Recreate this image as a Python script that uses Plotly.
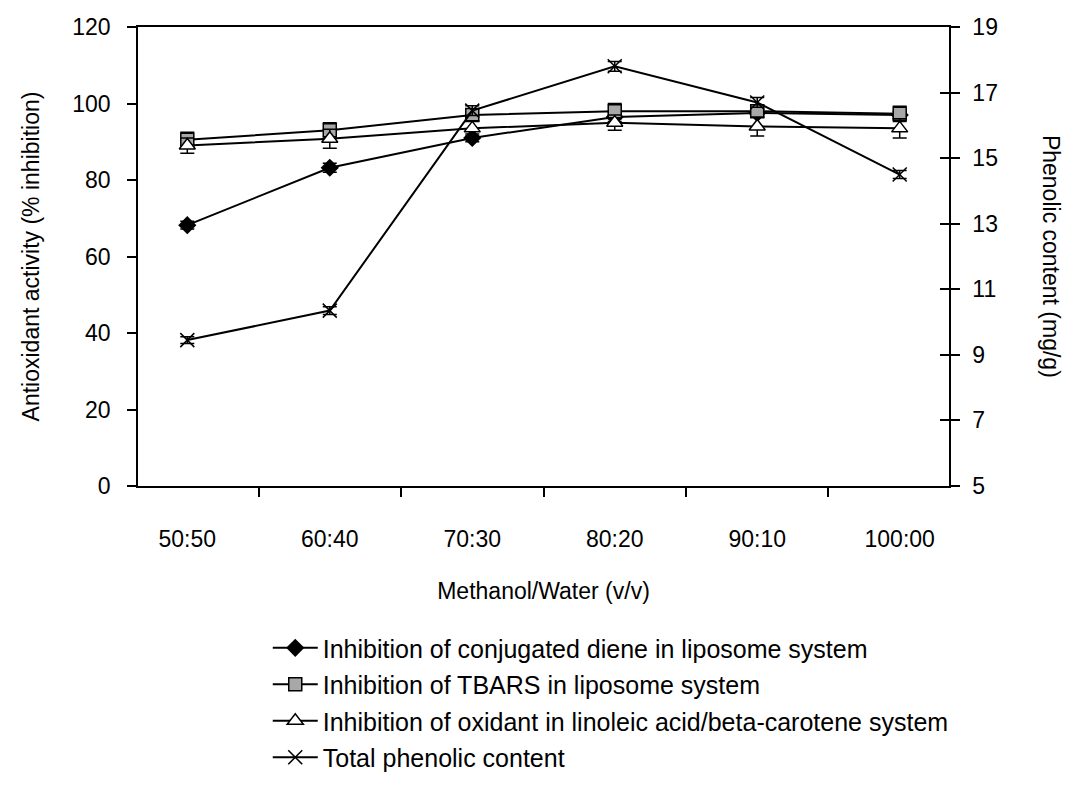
import plotly.graph_objects as go

# Solvent ratios (methanol/water, v/v)
ratios = ["50:50", "60:40", "70:30", "80:20", "90:10", "100:00"]

# Antioxidant activity, % inhibition (left axis)
diene = [68.2, 83.2, 91.0, 96.5, 97.5, 97.0]
diene_err = [1.0, 1.2, 1.0, 1.2, 1.0, 1.0]
tbars = [90.5, 93.0, 97.0, 98.0, 98.0, 97.3]
tbars_err = [2.0, 2.0, 1.5, 2.0, 1.5, 2.0]
oxidant = [89.0, 90.8, 93.5, 95.0, 94.0, 93.5]
oxidant_err = [2.0, 2.5, 2.0, 2.0, 2.5, 2.5]

# Total phenolic content, mg/g (right axis)
phenolic = [9.45, 10.35, 16.45, 17.8, 16.7, 14.5]
phenolic_err = [0.1, 0.12, 0.15, 0.15, 0.15, 0.12]

FONT = "Liberation Sans, Arial, sans-serif"
BLACK = "#000000"
TICK_SIZE = 23
TITLE_SIZE = 23
LEGEND_SIZE = 25
RIGHT_RANGE = [5, 19]

fig = go.Figure()

def err(vals):
    return dict(type="data", array=vals, visible=True, color=BLACK,
                thickness=1.5, width=7)

fig.add_trace(go.Scatter(
    x=ratios, y=diene, name="Inhibition of conjugated diene in liposome system",
    mode="lines+markers", legendgroup="a",
    line=dict(color=BLACK, width=2),
    marker=dict(symbol="diamond", size=14, color=BLACK),
    error_y=err(diene_err),
))
fig.add_trace(go.Scatter(
    x=ratios, y=tbars, name="Inhibition of TBARS in liposome system",
    mode="lines+markers", legendgroup="b",
    line=dict(color=BLACK, width=2),
    marker=dict(symbol="square", size=13, color="#a8a8a8",
                line=dict(color=BLACK, width=1.5)),
    error_y=err(tbars_err),
))
fig.add_trace(go.Scatter(
    x=ratios, y=oxidant, name="Inhibition of oxidant in linoleic acid/beta-carotene system",
    mode="lines+markers", legendgroup="c",
    line=dict(color=BLACK, width=2),
    marker=dict(symbol="triangle-up", size=14, color="#ffffff",
                line=dict(color=BLACK, width=1.5)),
    error_y=err(oxidant_err),
))
fig.add_trace(go.Scatter(
    x=ratios, y=phenolic, name="Total phenolic content", yaxis="y2",
    mode="lines+markers", legendgroup="d",
    line=dict(color=BLACK, width=2),
    marker=dict(symbol="x-thin-open", size=14, color=BLACK,
                line=dict(color=BLACK, width=1.5)),
    error_y=err(phenolic_err),
))
# Companion trace so the right axis also gets its inward tick marks
fig.add_trace(go.Scatter(
    x=ratios, y=phenolic, yaxis="y3", mode="none",
    showlegend=False, hoverinfo="skip",
))

fig.update_layout(
    width=1072, height=792,
    margin=dict(l=138, r=123, t=27, b=295),
    paper_bgcolor="white", plot_bgcolor="white",
    font=dict(family=FONT, size=TICK_SIZE, color=BLACK),
    showlegend=True,
    legend=dict(
        orientation="v", x=0.16, xanchor="left", y=-0.303, yanchor="top",
        font=dict(family=FONT, size=LEGEND_SIZE, color=BLACK),
        tracegroupgap=1, itemwidth=45, bgcolor="rgba(0,0,0,0)",
    ),
    xaxis=dict(
        type="category", showline=True, linecolor=BLACK, linewidth=1.5,
        mirror=True, ticks="outside", tickson="boundaries", ticklen=9,
        tickwidth=1.5, tickcolor=BLACK, showgrid=False, zeroline=False,
        tickfont=dict(size=TICK_SIZE), ticklabelstandoff=32,
        title=dict(text="Methanol/Water (v/v)", font=dict(size=TITLE_SIZE), standoff=32),
    ),
    yaxis=dict(
        range=[0, 120], dtick=20, showline=True, linecolor=BLACK, linewidth=1.5,
        ticks="outside", ticklen=9, tickwidth=1.5, tickcolor=BLACK,
        showgrid=False, zeroline=False, tickfont=dict(size=TICK_SIZE),
        ticklabelstandoff=12,
        title=dict(text="Antioxidant activity (% inhibition)",
                   font=dict(size=TITLE_SIZE), standoff=26),
    ),
    yaxis2=dict(
        range=RIGHT_RANGE, tick0=5, dtick=2, overlaying="y", side="right", anchor="x",
        showline=True, linecolor=BLACK, linewidth=1.5,
        ticks="outside", ticklen=9, tickwidth=1.5, tickcolor=BLACK,
        showgrid=False, zeroline=False, tickfont=dict(size=TICK_SIZE),
        ticklabelstandoff=8,
    ),
    yaxis3=dict(
        range=RIGHT_RANGE, tick0=5, dtick=2, overlaying="y", side="right", anchor="x",
        showline=False, ticks="inside", ticklen=9, tickwidth=1.5, tickcolor=BLACK,
        showticklabels=False, showgrid=False, zeroline=False,
    ),
)

# Right-hand axis title, reading top to bottom
fig.add_annotation(
    text="Phenolic content (mg/g)", xref="paper", yref="paper",
    x=1.145, y=0.5, textangle=90, showarrow=False,
    font=dict(family=FONT, size=TITLE_SIZE, color=BLACK),
)

fig.write_html("out.html")
